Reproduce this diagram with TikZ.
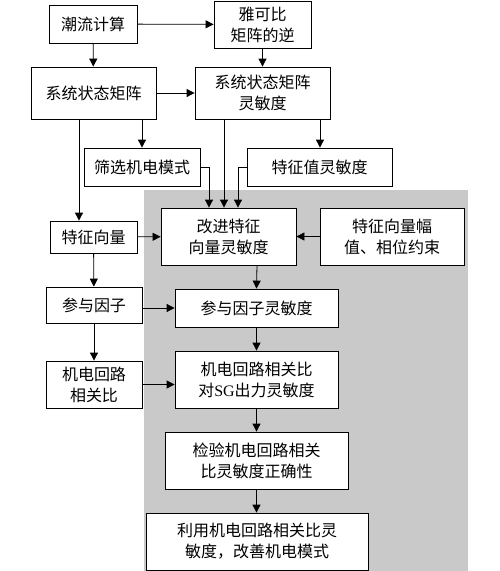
\documentclass[tikz,border=0pt]{standalone}
\usepackage{fontspec}
\setmainfont{Liberation Serif}
\newfontfamily\cjk{Noto Sans CJK SC}
\usepackage{tikz}
\usetikzlibrary{arrows,arrows.meta,calc,positioning}

\begin{document}
\begin{tikzpicture}[x=1pt,y=-1pt,
  box/.style={draw, line width=0.8pt, fill=white, align=center, inner sep=0pt,
    font=\cjk\fontsize{16}{21}\selectfont},
  flow/.style={line width=0.8pt, -{Triangle[length=8pt,width=8pt]}}]
  \useasboundingbox (0,0) rectangle (500,571);
  \fill[black!21] (144,190) rectangle (468,571);
  % left column
  \node[box, minimum width=88pt, minimum height=38pt] (calc) at (93,24) {潮流计算};
  \node[box, minimum width=125pt, minimum height=52pt] (sysA) at (93.5,93) {系统状态矩阵};
  \node[box, minimum width=116pt, minimum height=38pt] (mode) at (142,167) {筛选机电模式};
  \node[box, minimum width=87pt, minimum height=32pt] (vec) at (93.5,237) {特征向量};
  \node[box, minimum width=96pt, minimum height=36pt] (part) at (94,305) {参与因子};
  \node[box, minimum width=96pt, minimum height=47pt] (corr) at (94,384.5) {机电回路\\相关比};
  % right column
  \node[box, minimum width=97pt, minimum height=47pt] (jac) at (262.5,24.5) {雅可比\\矩阵的逆};
  \node[box, minimum width=135pt, minimum height=52pt] (sysS) at (262.5,93) {系统状态矩阵\\灵敏度};
  \node[box, minimum width=145pt, minimum height=38pt] (eigS) at (319.5,167) {特征值灵敏度};
  \node[box, minimum width=135pt, minimum height=57pt] (imp) at (228.5,236.5) {改进特征\\向量灵敏度};
  \node[box, minimum width=144pt, minimum height=57pt] (cons) at (392,236.5) {特征向量幅\\值、相位约束};
  \node[box, minimum width=163pt, minimum height=38pt] (partS) at (256.5,308) {参与因子灵敏度};
  \node[box, minimum width=163pt, minimum height=57pt] (corrS) at (256.5,379.5) {机电回路相关比\\对{\rmfamily SG}出力灵敏度};
  \node[box, minimum width=183pt, minimum height=57pt] (check) at (256.5,460.5) {检验机电回路相关\\比灵敏度正确性};
  \node[box, minimum width=222pt, minimum height=57pt] (use) at (257,541.5) {利用机电回路相关比灵\\敏度，改善机电模式};

  \path[flow]
  (calc) edge (jac)
  (calc) edge (sysA)
  (jac) edge (sysS)
  (sysA) edge (sysS)
  ([xshift=48.5pt]sysA.south) edge (mode.north)
  ([xshift=-14.5pt]sysA.south) edge ([xshift=-14.5pt]vec.north)
  ([xshift=57.5pt]sysS.south) edge ([xshift=0.5pt]eigS.north)
  ([xshift=-38.5pt]sysS.south) edge ([xshift=-4.5pt]imp.north)
  (mode.east) edge[to path={-| (\tikztotarget)}] ([xshift=-19.5pt]imp.north)
  (eigS.west) edge[to path={-| (\tikztotarget)}] ([xshift=9.5pt]imp.north)
  (vec) edge (imp)
  (cons) edge (imp)
  ([xshift=28.5pt]imp.south) edge (partS.north)
  (vec) edge (part)
  (part.east |- partS.west) edge (partS.west)
  (part) edge (corr)
  (corr.east) edge (corr.east -| corrS.west)
  (partS) edge (corrS)
  (corrS) edge (check)
  (check) edge (use.north -| check.south);
\end{tikzpicture}
\end{document}
